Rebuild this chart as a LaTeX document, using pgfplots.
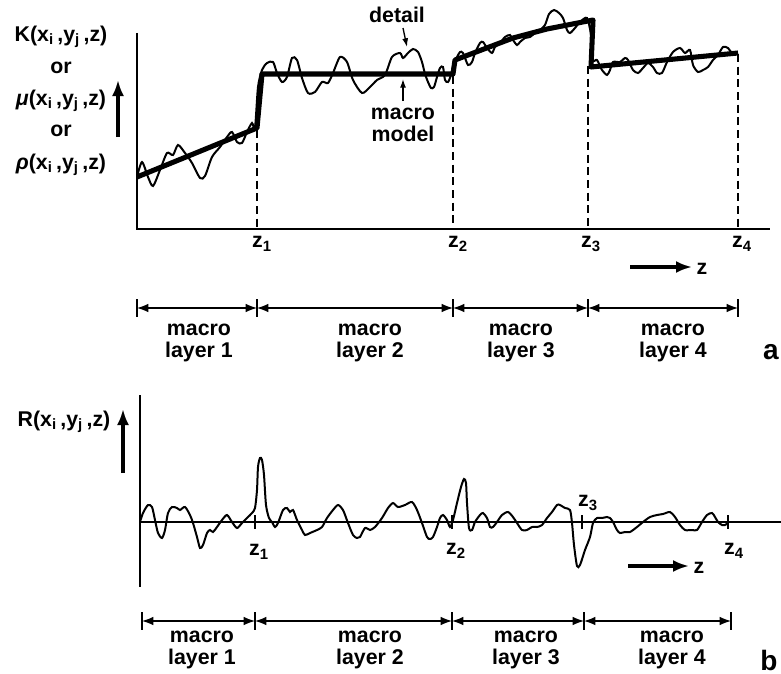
\documentclass[border=0pt]{standalone}
\usepackage{fontspec}
\setmainfont{Liberation Sans}
\usepackage{pgfplots}
\pgfplotsset{compat=1.18}
\usetikzlibrary{arrows.meta}

% whole figure on one canvas, coordinates in pixels of the original (y downwards)
\newcommand{\zl}[1]{z\textsubscript{#1}}
\newcommand{\args}{(x\textsubscript{i}\,,y\textsubscript{j}\,,z)}

\begin{document}
\begin{tikzpicture}[
  lbl/.style={font=\bfseries\fontsize{16}{16.5}\selectfont, inner sep=0pt, align=center},
  span/.style={{Latex[length=8.5pt,width=6.5pt]}-{Latex[length=8.5pt,width=6.5pt]}, line width=1pt},
  zarrow/.style={-{Latex[length=12pt,width=9pt]}, line width=2.3pt},
  bar/.style={line width=1.1pt},
]
\begin{axis}[
  hide axis, scale only axis,
  width=585.75pt, height=505.5pt,
  xmin=0, xmax=781, ymin=0, ymax=674, y dir=reverse,
  clip=false,
]
%% ---------------- panel a ----------------
% axes
\addplot[line width=1.9pt, line join=miter] coordinates {(137,33)(137,229)(770,229)};
% layer boundaries
\addplot[line width=1.3pt, dash pattern=on 6pt off 3.5pt] coordinates {(257,130)(257,229)};
\addplot[line width=1.3pt, dash pattern=on 6pt off 3.5pt] coordinates {(453,76)(453,229)};
\addplot[line width=1.3pt, dash pattern=on 6pt off 3.5pt] coordinates {(588,66)(588,229)};
\addplot[line width=1.3pt, dash pattern=on 6pt off 3.5pt] coordinates {(738,54)(738,229)};
% detail
\addplot[line width=1.5pt, smooth, tension=0.45] coordinates {
(137,177)(142,162)(148,177)(153,186)(160,170)(167,153)(173,155)(178,145)(185,153)(192,163)
(200,178)(205,176)(212,157)(220,147)(227,137)(232,132)(237,142)(242,143)(247,132)(252,123)
(255,128)(258,87)(262,70)(267,63)(273,62)(277,73)(282,82)(287,77)(292,58)(297,60)
(302,78)(308,93)(315,92)(322,82)(328,83)(333,73)(340,57)(347,62)(353,80)(362,93)
(370,87)(377,80)(385,75)(392,57)(400,53)(403,58)(408,53)(413,49)(418,52)(422,62)
(425,74)(428,82)(431,88)(434,87)(437,77)(440,68)(443,67)(445,80)(448,82)(451,75)
(454,62)(457,57)(460,52)(463,53)(468,65)(472,62)(475,53)(480,43)(483,42)(487,48)
(492,53)(495,47)(500,43)(505,37)(510,35)(513,40)(517,45)(520,42)(525,38)(530,37)
(535,33)(540,30)(545,25)(549,14)(554,10)(559,13)(563,18)(567,30)(570,33)(575,28)
(580,22)(587,18)(591,35)(593,60)(597,60)(602,70)(607,75)(610,70)(613,62)(620,62)
(625,58)(628,60)(633,70)(638,73)(643,68)(648,63)(653,67)(657,73)(662,73)(667,62)
(673,52)(680,48)(685,53)(690,50)(693,65)(698,72)(703,70)(708,67)(713,60)(718,55)
(723,47)(728,48)(732,53)(738,53)
};
% macro model
\addplot[line width=3.8pt, line join=round] coordinates {
(137,177)(257,128)(262,74)(453,74)(455,60)(513,38)(547,29)(593,20)(591,67)(738,53)
};
% labels
\node[lbl] at (61,37) {K\args};
\node[lbl] at (61,68) {or};
\node[lbl] at (61,101) {\textit{μ}\args};
\node[lbl] at (61,131) {or};
\node[lbl] at (61,165) {\textit{ρ}\args};
\draw[zarrow] (118,137) -- (118,80);
\node[lbl] at (397,15) {detail};
\draw[-{Latex[length=6.5pt,width=4.5pt]}, line width=1pt] (403,28) -- (407,47);
\node[lbl] at (403,125) {macro\\model};
\draw[-{Latex[length=6.5pt,width=4.5pt]}, line width=1pt] (403,101) -- (403,79);
\node[lbl] at (262,244) {\zl{1}};
\node[lbl] at (458,244) {\zl{2}};
\node[lbl] at (591,244) {\zl{3}};
\node[lbl] at (742,244) {\zl{4}};
\draw[zarrow] (630,267) -- (692,267);
\node[lbl] at (702,269) {z};
% macro layers
\draw[bar] (137,299) -- (137,317);
\draw[bar] (257,299) -- (257,317);
\draw[bar] (453,299) -- (453,317);
\draw[bar] (588,299) -- (588,317);
\draw[bar] (738,299) -- (738,317);
\draw[span] (137,308) -- (257,308);
\draw[span] (257,308) -- (453,308);
\draw[span] (453,308) -- (588,308);
\draw[span] (588,308) -- (738,308);
\node[lbl] at (199,343) {macro\\layer 1};
\node[lbl] at (370,343) {macro\\layer 2};
\node[lbl] at (521,343) {macro\\layer 3};
\node[lbl] at (673,343) {macro\\layer 4};
\node[lbl, font=\bfseries\fontsize{21}{22}\selectfont] at (771,352) {a};

%% ---------------- panel b ----------------
\addplot[line width=1.9pt] coordinates {(140,395)(140,587)};
\addplot[line width=1.3pt] coordinates {(140,522)(781,522)};
\draw[line width=1.3pt] (255,515) -- (255,529);
\draw[line width=1.3pt] (452,515) -- (452,529);
\draw[line width=1.3pt] (582,515) -- (582,529);
\draw[line width=1.3pt] (728,515) -- (728,529);
\addplot[line width=1.5pt, smooth, tension=0.45] coordinates {
(140,522)(143,513)(148,505)(152,507)(155,520)(158,533)(162,538)(165,530)(168,513)(172,507)
(177,508)(180,510)(185,507)(190,515)(193,523)(197,537)(200,548)(203,545)(207,533)(210,530)
(213,532)(217,527)(222,520)(227,515)(232,522)(237,528)(242,523)(247,518)(252,513)(255,508)
(257,490)(258,467)(260,458)(262,460)(264,475)(266,505)(269,518)(272,522)(275,527)(278,523)
(283,510)(287,508)(290,512)(293,510)(297,520)(302,530)(305,535)(310,533)(317,530)(322,527)
(327,518)(333,510)(338,505)(343,510)(348,523)(353,535)(357,538)(360,537)(365,528)(370,530)
(375,527)(382,518)(388,508)(393,503)(398,507)(405,505)(412,502)(417,510)(422,523)(427,537)
(430,539)(433,537)(437,527)(440,518)(443,515)(447,520)(450,527)(453,520)(457,503)(461,487)
(464,479)(466,483)(467,503)(469,528)(472,530)(475,522)(480,515)(483,513)(487,518)(490,527)
(493,527)(497,522)(502,515)(508,512)(513,517)(517,523)(522,530)(527,530)(532,527)(537,527)
(542,525)(547,518)(552,512)(557,505)(560,505)(565,508)(570,510)(572,523)(574,545)(577,566)
(580,565)(585,550)(590,537)(593,523)(597,518)(602,518)(607,517)(610,518)(613,522)(617,530)
(620,533)(625,532)(630,532)(637,527)(643,522)(650,517)(657,515)(663,514)(670,512)(675,517)
(680,525)(685,530)(692,530)(697,530)(702,522)(707,515)(712,513)(715,517)(718,522)(722,525)
(725,525)(728,523)
};
\node[lbl] at (64,422) {R\args};
\draw[zarrow] (123,473) -- (123,409);
\node[lbl] at (259,552) {\zl{1}};
\node[lbl] at (456,551) {\zl{2}};
\node[lbl] at (588,503) {\zl{3}};
\node[lbl] at (734,551) {\zl{4}};
\draw[zarrow] (628,566) -- (689,566);
\node[lbl] at (699,568) {z};
\draw[bar] (142,612) -- (142,630);
\draw[bar] (255,612) -- (255,630);
\draw[bar] (452,612) -- (452,630);
\draw[bar] (584,612) -- (584,630);
\draw[bar] (731,612) -- (731,630);
\draw[span] (142,621) -- (255,621);
\draw[span] (255,621) -- (452,621);
\draw[span] (452,621) -- (584,621);
\draw[span] (584,621) -- (731,621);
\node[lbl] at (202,650) {macro\\layer 1};
\node[lbl] at (370,650) {macro\\layer 2};
\node[lbl] at (526,650) {macro\\layer 3};
\node[lbl] at (672,650) {macro\\layer 4};
\node[lbl, font=\bfseries\fontsize{21}{22}\selectfont] at (769,660) {b};
\end{axis}
\pgfresetboundingbox
\path (current axis.south west) rectangle (current axis.north east);
\end{tikzpicture}
\end{document}
